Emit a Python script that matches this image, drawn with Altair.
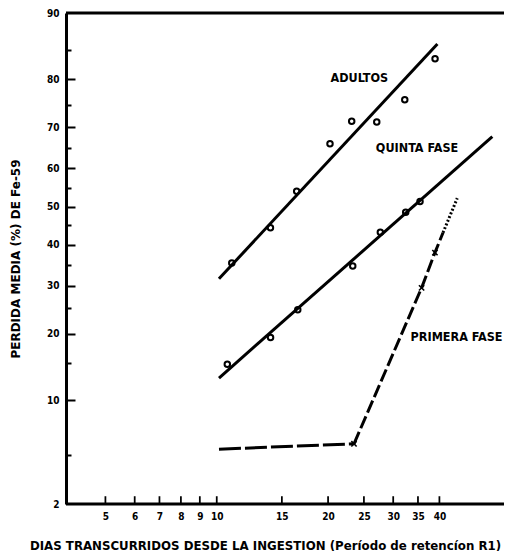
import altair as alt
import pandas as pd
from statistics import NormalDist

_ND = NormalDist()


def zval(pct):
    return _ND.inv_cdf(pct / 100.0)


# ---------------- data ----------------
ADULTOS_DIAS = [10.98, 13.97, 16.45, 20.24, 23.17, 27.08, 32.24, 38.93]
ADULTOS_PCT = [35.4, 44.4, 54.0, 66.1, 71.4, 71.2, 76.0, 83.6]
ADULTOS_RECTA_DIAS = [10.14, 39.5]
ADULTOS_RECTA_PCT = [31.6, 85.9]

QUINTA_DIAS = [10.68, 13.98, 16.56, 23.32, 27.69, 32.43, 35.45]
QUINTA_PCT = [14.8, 19.3, 24.7, 34.7, 43.2, 48.5, 51.3]
QUINTA_RECTA_DIAS = [10.14, 55.6]
QUINTA_RECTA_PCT = [12.8, 67.8]

PRIMERA_DIAS = [10.14, 23.5, 35.8, 38.9, 40.9, 44.7]
PRIMERA_PCT = [5.4, 5.8, 29.5, 38.0, 43.1, 52.2]
PRIMERA_TRAMO = [["h", 0, 1], ["i", 1, 4], ["d", 4, 5]]
PRIMERA_MARCA_DIAS = [23.5, 35.8, 38.9]
PRIMERA_MARCA_PCT = [5.8, 29.5, 38.0]

ETIQUETAS = ["ADULTOS", "QUINTA FASE", "PRIMERA FASE"]
ETIQUETA_DIAS = [24.3, 34.8, 44.5]
ETIQUETA_PCT = [80.3, 65.0, 19.4]

X_TICKS = [5, 6, 7, 8, 9, 10, 15, 20, 25, 30, 35, 40]
Y_LABELS = [10, 20, 30, 40, 50, 60, 70, 80, 90]
Y_TICKS = [5, 10, 15, 20, 25, 30, 35, 40, 45, 50, 55, 60, 65, 70, 75, 80, 85]
X_DOMAIN = [3.912, 59.8]
Y_BOTTOM_PCT = 2.44   # bottom edge of the plot, labelled "2"
Y_TOP_PCT = 90
X_TICK_TOP_PCT = 2.75  # height reached by the inward x ticks
X_TICK_HALF = 1.0055   # half-width factor of an x tick on the log axis

X_TITLE = "DIAS TRANSCURRIDOS DESDE LA INGESTION (Período de retencíon R1)"
Y_TITLE = "PERDIDA MEDIA (%) DE Fe-59"

W, H = 438, 491
COND = "'DejaVu Sans Condensed', 'Liberation Sans Narrow', 'Roboto Condensed', 'DejaVu Sans', sans-serif"
WIDE = "'DejaVu Sans', Verdana, sans-serif"

# ---------------- tables ----------------
rectas = pd.DataFrame(
    {
        "serie": ["adultos"] * 2 + ["quinta"] * 2,
        "dias": ADULTOS_RECTA_DIAS + QUINTA_RECTA_DIAS,
        "pct": ADULTOS_RECTA_PCT + QUINTA_RECTA_PCT,
    }
)
puntos = pd.DataFrame(
    {
        "serie": ["adultos"] * len(ADULTOS_DIAS) + ["quinta"] * len(QUINTA_DIAS),
        "dias": ADULTOS_DIAS + QUINTA_DIAS,
        "pct": ADULTOS_PCT + QUINTA_PCT,
    }
)
rows = []
for tramo, a, b in PRIMERA_TRAMO:
    for k in range(a, b + 1):
        rows.append({"tramo": tramo, "orden": k, "dias": PRIMERA_DIAS[k], "pct": PRIMERA_PCT[k]})
primera = pd.DataFrame(rows)
marcas = pd.DataFrame({"dias": PRIMERA_MARCA_DIAS, "pct": PRIMERA_MARCA_PCT})
etiquetas = pd.DataFrame({"txt": ETIQUETAS, "dias": ETIQUETA_DIAS, "pct": ETIQUETA_PCT})
bordes = pd.DataFrame({"pct": [Y_BOTTOM_PCT, Y_TOP_PCT]})
xticks = pd.DataFrame(
    {
        "dias": [float(v) for v in X_TICKS],
        "pct": [Y_BOTTOM_PCT] * len(X_TICKS),
        "pct2": [X_TICK_TOP_PCT] * len(X_TICKS),
    }
)

TO_Z = "quantileNormal(datum.pct / 100)"

xscale = alt.Scale(type="log", domain=X_DOMAIN, nice=False)
yscale = alt.Scale(domain=[zval(Y_BOTTOM_PCT), zval(Y_TOP_PCT)], nice=False, zero=False)

x_axis_main = alt.Axis(
    orient="bottom", values=X_TICKS, format="d", grid=False, ticks=False,
    domain=False,
    labelFont=COND, labelFontSize=10, labelFontWeight="bold", labelColor="black",
    labelPadding=7, labelFlush=False, labelOverlap=False,
    title=X_TITLE, titleFont=WIDE, titleFontSize=11.8, titleFontWeight="bold",
    titleColor="black", titleX=199, titleY=45, titleAlign="center",
    titleBaseline="alphabetic",
)
y_axis_main = alt.Axis(
    orient="left", values=[zval(Y_BOTTOM_PCT)] + [zval(p) for p in Y_LABELS],
    labelExpr="format(cumulativeNormal(datum.value) * 100, 'd')",
    ticks=False, grid=False, domain=True, domainWidth=3, domainColor="black",
    labelFont=COND, labelFontSize=10, labelFontWeight="bold", labelColor="black",
    labelPadding=7, labelFlush=False, labelOverlap=False, labelBaseline="middle",
    title=Y_TITLE, titleFont=WIDE, titleFontSize=12, titleFontWeight="bold",
    titleColor="black", titleX=-51, titleY=H / 2, titleAngle=270,
    titleAlign="center", titleBaseline="middle",
)
y_axis_ticks = alt.Axis(
    orient="right", offset=-W, values=[zval(p) for p in Y_TICKS], labels=False,
    domain=False, ticks=True, tickWidth=2, tickColor="black", grid=False, title=None,
    tickSize={
        "condition": {"test": "round(cumulativeNormal(datum.value) * 100) % 10 == 0", "value": 9},
        "value": 5,
    },
)

lineas = (
    alt.Chart(rectas)
    .transform_calculate(z=TO_Z)
    .mark_line(color="black", strokeWidth=3)
    .encode(
        x=alt.X("dias:Q", scale=xscale, axis=x_axis_main),
        y=alt.Y("z:Q", scale=yscale, axis=y_axis_main),
        detail="serie:N",
    )
)

circulos = (
    alt.Chart(puntos)
    .transform_calculate(z=TO_Z)
    .mark_point(shape="circle", filled=False, color="black", size=30, strokeWidth=2, opacity=1)
    .encode(
        x=alt.X("dias:Q", scale=xscale, axis=None),
        y=alt.Y("z:Q", scale=yscale, axis=y_axis_ticks),
    )
)

discontinua = (
    alt.Chart(primera)
    .transform_calculate(z=TO_Z)
    .mark_line(color="black", strokeWidth=3, strokeCap="butt")
    .encode(
        x=alt.X("dias:Q", scale=xscale, axis=None),
        y=alt.Y("z:Q", scale=yscale, axis=None),
        detail="tramo:N",
        order="orden:Q",
        strokeDash=alt.StrokeDash(
            "tramo:N",
            scale=alt.Scale(domain=["h", "i", "d"], range=[[22, 4], [13, 4], [2, 2]]),
            legend=None,
        ),
    )
)

cruces = (
    alt.Chart(marcas)
    .transform_calculate(z=TO_Z)
    .mark_point(shape="M-1,-1L1,1M1,-1L-1,1", filled=False, color="black", size=28,
                strokeWidth=1.6, opacity=1)
    .encode(
        x=alt.X("dias:Q", scale=xscale, axis=None),
        y=alt.Y("z:Q", scale=yscale, axis=None),
    )
)

textos = (
    alt.Chart(etiquetas)
    .transform_calculate(z=TO_Z)
    .mark_text(font=COND, fontSize=12.5, fontWeight="bold", color="black",
               align="center", baseline="middle")
    .encode(
        x=alt.X("dias:Q", scale=xscale, axis=None),
        y=alt.Y("z:Q", scale=yscale, axis=None),
        text="txt:N",
    )
)

# inward x ticks as thin filled rectangles standing on the bottom frame line
marcas_x = (
    alt.Chart(xticks)
    .transform_calculate(
        z=TO_Z,
        z2="quantileNormal(datum.pct2 / 100)",
        d1=f"datum.dias / {X_TICK_HALF}",
        d2=f"datum.dias * {X_TICK_HALF}",
    )
    .mark_rect(color="black", opacity=1)
    .encode(
        x=alt.X("d1:Q", scale=xscale, axis=None),
        x2="d2:Q",
        y=alt.Y("z:Q", scale=yscale, axis=None),
        y2="z2:Q",
    )
)

# top and bottom frame lines, placed through the y scale
marco = (
    alt.Chart(bordes)
    .transform_calculate(z=TO_Z)
    .mark_rule(color="black", strokeWidth=3)
    .encode(y=alt.Y("z:Q", scale=yscale, axis=None))
)

chart = (
    alt.layer(lineas, circulos, discontinua, cruces, textos, marcas_x, marco)
    .resolve_axis(x="independent", y="independent")
    .properties(
        width=W,
        height=H,
        autosize=alt.AutoSizeParams(type="none"),
        padding={"left": 58, "top": 5, "right": 0, "bottom": 47},
        background="white",
    )
    .configure_view(stroke=None)
)

chart.save("out.html", embed_options={"renderer": "svg", "actions": False})
